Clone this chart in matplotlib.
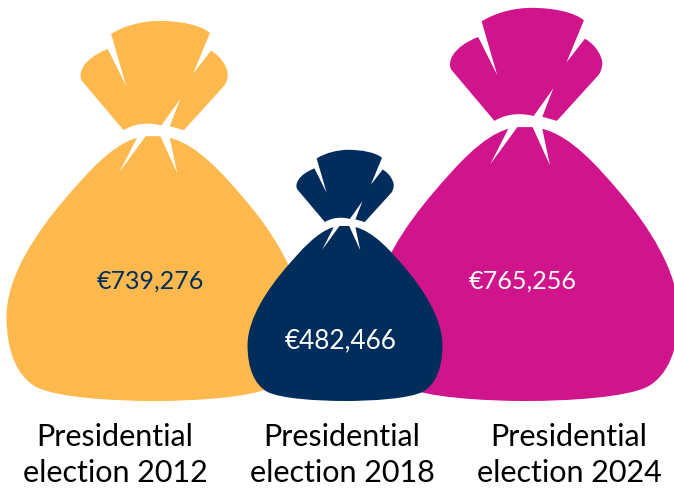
import matplotlib
matplotlib.use('Agg')
import matplotlib.pyplot as plt
from matplotlib.path import Path
from matplotlib.patches import PathPatch

elections = ['Presidential\nelection 2012', 'Presidential\nelection 2018', 'Presidential\nelection 2024']
amounts = [739276, 482466, 765256]
colors = ['#FDB94D', '#002D5B', '#CF148C']
text_colors = ['#002D5B', '#FFFFFF', '#FFFFFF']

M, L, C = Path.MOVETO, Path.LINETO, Path.CURVE4

# bag outline, drawn in a box 1134 high, x=0 is the middle, y=0 the bottom
neck = [
    (M, (-128, 1095)),
    (C, (-85, 1122)), (C, (-30, 1134)), (C, (17, 1134)),
    (C, (75, 1134)), (C, (140, 1122)), (C, (167, 1098)),
    (L, (117, 977)),
    (L, (170, 1045)),
    (C, (205, 1025)), (C, (220, 990)), (C, (220, 975)),
    (C, (220, 960)), (C, (215, 948)), (C, (209, 940)),
    (L, (89, 808)),
    (L, (47, 820)),
    (L, (79, 902)),
    (L, (22, 822)),
    (C, (-10, 830)), (C, (-50, 832)), (C, (-91, 808)),
    (L, (-215, 955)),
    (C, (-228, 975)), (C, (-215, 1020)), (C, (-138, 1050)),
    (L, (-83, 940)),
    (L, (-128, 1095)),
    (Path.CLOSEPOLY, (-128, 1095)),
]
body = [
    (M, (-25, 790)),
    (L, (-103, 683)),
    (L, (-51, 785)),
    (C, (-125, 765)), (C, (-200, 680)), (C, (-268, 600)),
    (C, (-345, 510)), (C, (-440, 375)), (C, (-440, 252)),
    (C, (-440, 150)), (C, (-410, 75)), (C, (-352, 42)),
    (C, (-290, 10)), (C, (-120, 0)), (C, (0, 0)),
    (C, (120, 0)), (C, (290, 10)), (C, (352, 42)),
    (C, (410, 75)), (C, (440, 150)), (C, (440, 252)),
    (C, (440, 375)), (C, (349, 510)), (C, (272, 600)),
    (C, (204, 680)), (C, (129, 765)), (C, (47, 785)),
    (L, (69, 680)),
    (L, (19, 790)),
    (L, (-25, 790)),
    (Path.CLOSEPOLY, (-25, 790)),
]
bag_segs = neck + body
bag_codes = [s[0] for s in bag_segs]
bag_verts = [s[1] for s in bag_segs]

centers = [154, 345, 526]
label_x = [115, 342, 569]
value_pos = [(150, 281), (341, 341), (523, 281)]
value_sizes = [18, 18.8, 18.1]
order = [0, 2, 1]

fig = plt.figure(figsize=(6.74, 4.93), dpi=100)
ax = fig.add_axes([0, 0, 1, 1])
ax.set_xlim(0, 674)
ax.set_ylim(493, 0)
ax.axis('off')

for i in order:
    # bag height follows the amount
    h = 9 + 5.02e-4 * amounts[i]
    s = h / 1134
    verts = [(centers[i] + x * s, 401 - y * s) for x, y in bag_verts]
    ax.add_patch(PathPatch(Path(verts, bag_codes), facecolor=colors[i], edgecolor='none'))
    ax.text(value_pos[i][0], value_pos[i][1], '€{:,}'.format(amounts[i]), color=text_colors[i],
            ha='center', va='center', fontsize=value_sizes[i], family='Lato')
    ax.text(label_x[i], 455, elections[i], color='black', ha='center', va='center',
            fontsize=22, family='Lato', linespacing=1.36)

fig.savefig('out.png', dpi=100)
